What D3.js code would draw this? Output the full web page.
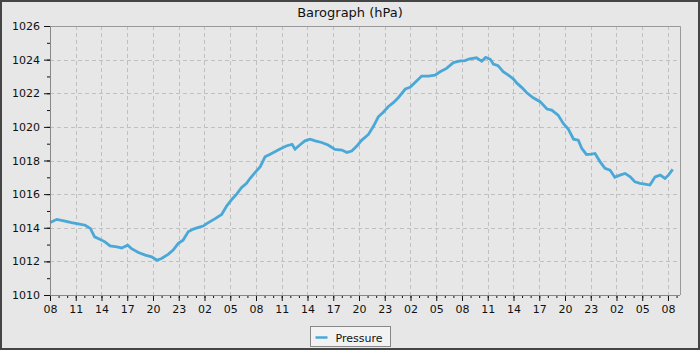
<!DOCTYPE html>
<html>
<head>
<meta charset="utf-8">
<script src="https://cdn.jsdelivr.net/npm/d3@7"></script>
<style>
  body { margin: 0; background: #e7e7e7; }
  svg { display: block; font-family: "DejaVu Sans", sans-serif; }
</style>
</head>
<body>
<svg id="chart" width="700" height="350"></svg>
<script>
// barograph, 3 days of readings starting at 08:00
// hours since start / pressure in hPa

const startHour = 8;

const hours = [0.0, 0.2, 0.8, 1.75, 2.5, 3.3, 4.1, 4.7, 5.2, 5.8, 6.4, 7.0, 7.8, 8.35, 9.05, 9.5,
  10.3, 11.1, 11.85, 12.45, 13.0, 13.8, 14.35, 14.95, 15.5, 16.1, 16.7, 17.3, 17.85, 18.3,
  19.2, 20.0, 20.6, 21.2, 21.75, 22.3, 22.9, 23.3, 23.9, 24.5, 25.05, 25.6, 26.2, 26.8,
  27.6, 28.2, 28.55, 29.1, 29.7, 30.3, 30.9, 31.65, 32.4, 33.2, 34.0, 34.6, 35.15, 35.75,
  36.3, 37.1, 37.7, 38.25, 38.8, 39.4, 40.0, 40.6, 41.4, 41.95, 42.5, 43.3, 44.1, 44.85,
  45.45, 46.2, 47.0, 47.8, 48.35, 48.9, 49.7, 50.3, 50.75, 51.3, 51.65, 52.2, 52.8, 53.4,
  54.0, 54.4, 54.95, 55.55, 56.3, 57.1, 57.9, 58.45, 59.2, 59.8, 60.4, 61.0, 61.55, 61.95,
  62.5, 63.1, 63.5, 64.1, 64.66, 65.25, 65.8, 66.4, 67.0, 67.6, 68.15, 68.75, 69.3, 69.9,
  70.5, 71.1, 71.65, 72.05, 72.55];

const pressure = [1014.3, 1014.35, 1014.5, 1014.4, 1014.3, 1014.23, 1014.15, 1013.96, 1013.46, 1013.32,
  1013.16, 1012.92, 1012.86, 1012.8, 1012.96, 1012.76, 1012.53, 1012.37, 1012.27, 1012.07,
  1012.17, 1012.43, 1012.67, 1013.07, 1013.26, 1013.76, 1013.92, 1014.02, 1014.1, 1014.26,
  1014.53, 1014.79, 1015.3, 1015.7, 1016.0, 1016.38, 1016.64, 1016.93, 1017.29, 1017.63,
  1018.22, 1018.36, 1018.52, 1018.68, 1018.88, 1018.96, 1018.68, 1018.92, 1019.17, 1019.27,
  1019.17, 1019.07, 1018.92, 1018.66, 1018.62, 1018.48, 1018.56, 1018.86, 1019.2, 1019.55,
  1020.05, 1020.6, 1020.86, 1021.2, 1021.44, 1021.75, 1022.25, 1022.35, 1022.63, 1023.02,
  1023.02, 1023.08, 1023.28, 1023.48, 1023.82, 1023.92, 1023.94, 1024.05, 1024.11, 1023.9,
  1024.13, 1024.02, 1023.74, 1023.64, 1023.28, 1023.08, 1022.84, 1022.6, 1022.35, 1022.03,
  1021.73, 1021.5, 1021.06, 1021.0, 1020.7, 1020.2, 1019.85, 1019.27, 1019.21, 1018.72,
  1018.36, 1018.38, 1018.42, 1017.92, 1017.53, 1017.43, 1017.0, 1017.13, 1017.23, 1017.03,
  1016.73, 1016.64, 1016.6, 1016.54, 1017.03, 1017.13, 1016.93, 1017.13, 1017.47];

const xMajorTicks = d3.range(0, 73, 3);     // every 3 hours
const xMinorTicks = d3.range(0, 74, 1);
const yMajorTicks = [1010, 1012, 1014, 1016, 1018, 1020, 1022, 1024, 1026];
const yMinorTicks = d3.range(1010, 1027, 1);

const data = hours.map((h, i) => ({ h: h, p: pressure[i] }));

const svg = d3.select("#chart");
const W = 700, H = 350;
const plotL = 50, plotR = 680, plotT = 26, plotB = 295;

// frame
svg.append("rect")
  .attr("x", 1).attr("y", 1).attr("width", W - 2).attr("height", H - 2)
  .attr("fill", "#e7e7e7").attr("stroke", "#454545").attr("stroke-width", 2);

const x = d3.scaleLinear([0, 73.4], [plotL, plotR]);
const y = d3.scaleLinear([1010, 1026], [plotB, plotT]);

// grid
svg.append("g").selectAll("line").data(yMajorTicks.slice(1, -1)).join("line")
  .attr("x1", plotL).attr("x2", plotR)
  .attr("y1", d => Math.round(y(d)) + 0.5).attr("y2", d => Math.round(y(d)) + 0.5)
  .attr("stroke", "#c0c0c0").attr("stroke-dasharray", "4,3");
svg.append("g").selectAll("line").data(xMajorTicks.slice(1)).join("line")
  .attr("x1", d => Math.round(x(d)) + 0.5).attr("x2", d => Math.round(x(d)) + 0.5)
  .attr("y1", plotT).attr("y2", plotB)
  .attr("stroke", "#c0c0c0").attr("stroke-dasharray", "4,3");

// plot border top/right
svg.append("path")
  .attr("d", `M${plotL},${plotT + 0.5}H${plotR + 0.5}V${plotB}`)
  .attr("fill", "none").attr("stroke", "#999");

// the pressure line
const line = d3.line().x(d => x(d.h)).y(d => y(d.p));
svg.append("path")
  .datum(data)
  .attr("d", line)
  .attr("fill", "none")
  .attr("stroke", "#4aa8d8")
  .attr("stroke-width", 2.8)
  .attr("stroke-linejoin", "miter");

// axes
const fmtHour = h => String((startHour + h) % 24).padStart(2, "0");

const xAxisMinor = d3.axisBottom(x).tickValues(xMinorTicks).tickSize(3).tickFormat("");
const xAxis = d3.axisBottom(x).tickValues(xMajorTicks).tickSize(6).tickPadding(4).tickFormat(fmtHour);
const yAxisMinor = d3.axisLeft(y).tickValues(yMinorTicks).tickSize(3).tickFormat("");
const yAxis = d3.axisLeft(y).tickValues(yMajorTicks).tickSize(6).tickPadding(4).tickFormat(d3.format("d"));

function styleAxis(g) {
  g.select(".domain").remove();
  g.selectAll("line").attr("stroke", "#111");
  g.selectAll("text").attr("fill", "#111").style("font-size", "11px").style("font-family", "DejaVu Sans");
}

svg.append("g").attr("transform", `translate(0,${plotB})`).call(xAxisMinor).call(styleAxis);
svg.append("g").attr("transform", `translate(0,${plotB})`).call(xAxis).call(styleAxis);
svg.append("g").attr("transform", `translate(${plotL},0)`).call(yAxisMinor).call(styleAxis);
svg.append("g").attr("transform", `translate(${plotL},0)`).call(yAxis).call(styleAxis);

// axis lines
svg.append("path")
  .attr("d", `M${plotL + 0.5},${plotT}V${plotB + 0.5}H${plotR}`)
  .attr("fill", "none").attr("stroke", "#888");

// title
svg.append("text")
  .attr("x", W / 2).attr("y", 17)
  .attr("text-anchor", "middle")
  .style("font-size", "13px").attr("fill", "#111")
  .text("Barograph (hPa)");

// legend
const lg = svg.append("g").attr("transform", "translate(310.5,326.5)");
lg.append("rect").attr("width", 80).attr("height", 20)
  .attr("fill", "#f2f2f2").attr("stroke", "#888");
lg.append("line").attr("x1", 5).attr("x2", 17).attr("y1", 11).attr("y2", 11)
  .attr("stroke", "#4aa8d8").attr("stroke-width", 2.5);
lg.append("text").attr("x", 25).attr("y", 15)
  .style("font-size", "11px").attr("fill", "#111")
  .text("Pressure");
</script>
</body>
</html>
